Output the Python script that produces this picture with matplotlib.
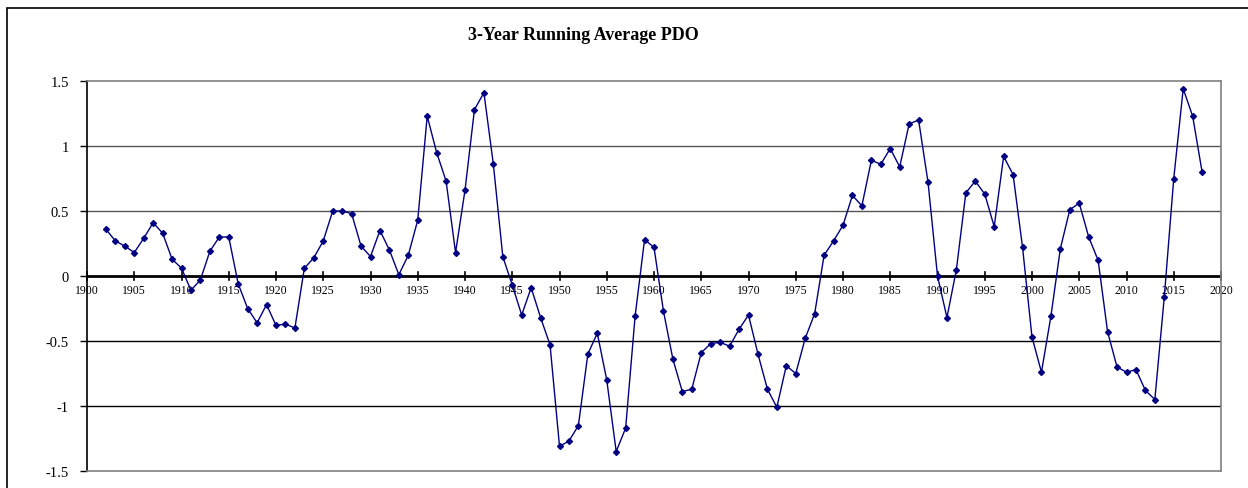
import numpy as np
import matplotlib.pyplot as plt
from matplotlib.patches import Rectangle

# =========== DATA =========================
years = list(range(1902, 2019))
pdo_3yr = [
    0.36, 0.27, 0.23, 0.18, 0.29, 0.41, 0.33, 0.13, 0.06, -0.11,   # 1902-1911
    -0.03, 0.19, 0.30, 0.30, -0.06, -0.25, -0.36, -0.22, -0.38, -0.37,  # 1912-1921
    -0.40, 0.06, 0.14, 0.27, 0.50, 0.50, 0.48, 0.23, 0.15, 0.35,   # 1922-1931
    0.20, 0.01, 0.16, 0.43, 1.23, 0.95, 0.73, 0.18, 0.66, 1.28,    # 1932-1941
    1.41, 0.86, 0.15, -0.07, -0.30, -0.09, -0.32, -0.53, -1.31, -1.27,  # 1942-1951
    -1.15, -0.60, -0.44, -0.80, -1.35, -1.17, -0.31, 0.28, 0.22, -0.27,  # 1952-1961
    -0.64, -0.89, -0.87, -0.59, -0.52, -0.51, -0.54, -0.41, -0.30, -0.60,  # 1962-1971
    -0.87, -1.01, -0.69, -0.75, -0.48, -0.29, 0.16, 0.27, 0.39, 0.62,  # 1972-1981
    0.54, 0.89, 0.86, 0.98, 0.84, 1.17, 1.20, 0.72, 0.00, -0.32,   # 1982-1991
    0.05, 0.64, 0.73, 0.63, 0.38, 0.92, 0.78, 0.22, -0.47, -0.74,  # 1992-2001
    -0.31, 0.21, 0.51, 0.56, 0.30, 0.12, -0.43, -0.70, -0.74, -0.72,  # 2002-2011
    -0.88, -0.95, -0.16, 0.75, 1.44, 1.23, 0.80,                   # 2012-2018
]
x_ticks = list(range(1900, 2021, 5))
y_ticks = [-1.5, -1, -0.5, 0, 0.5, 1, 1.5]
y_labels = ['-1.5', '-1', '-0.5', '0', '0.5', '1', '1.5']

# =========== PLOT =========================
plt.rcParams['font.family'] = ['Liberation Serif', 'DejaVu Serif']

W, H = 1248, 489
fig = plt.figure(figsize=(W / 100, H / 100), dpi=100)
ax = fig.add_axes([87 / W, 1 - 472 / H, (1221 - 87) / W, (472 - 82) / H])

# outer chart border (cut off at right and bottom)
fig.patches.append(Rectangle((7 / W, -0.1), 1.2, 1 - 9 / H + 0.1, transform=fig.transFigure,
                             fill=False, edgecolor='black', linewidth=1.2))

ax.set_xlim(1900, 2020)
ax.set_ylim(-1.5, 1.5)

for yv in [0.5, 1.0]:
    ax.axhline(yv, color='#555555', linewidth=1.0, zorder=1)
for yv in [-0.5, -1.0]:
    ax.axhline(yv, color='black', linewidth=1.0, zorder=1)

ax.plot(years, pdo_3yr, color='#000080', linewidth=1.0, marker='D', markersize=3.0,
        markerfacecolor='#000080', markeredgecolor='#000080', zorder=3)

# zero line acting as the x axis
ax.axhline(0, color='black', linewidth=2.0, zorder=2)
for xv in x_ticks:
    ax.plot([xv, xv], [-0.03, 0.03], color='black', linewidth=1.2, zorder=2, clip_on=False)
    ax.text(xv, -0.06, str(xv), ha='center', va='top', fontsize=8.5, zorder=2)

ax.set_xticks([])
ax.set_yticks(y_ticks)
ax.set_yticklabels(y_labels, fontsize=10.5)
ax.tick_params(axis='y', direction='out', length=5, width=1, pad=8)

for side in ['top', 'right', 'bottom']:
    ax.spines[side].set_color('#808080')
    ax.spines[side].set_linewidth(1.2)
ax.spines['left'].set_color('black')
ax.spines['left'].set_linewidth(1.2)

fig.text(583 / W, 1 - 36 / H, '3-Year Running Average PDO', ha='center', va='center',
         fontsize=13, fontweight='bold')

plt.savefig('out.png', dpi=100)
